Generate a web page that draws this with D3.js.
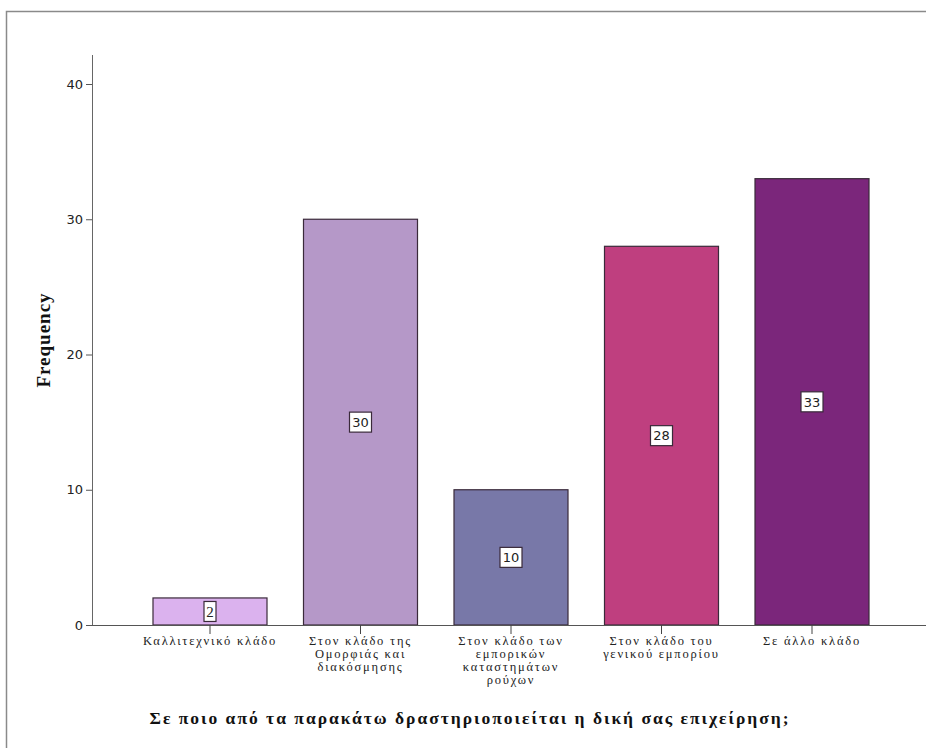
<!DOCTYPE html>
<html><head><meta charset="utf-8">
<script src="https://cdn.jsdelivr.net/npm/d3@7"></script>
<style>body{margin:0;background:#fff;} svg{display:block;}</style>
</head><body>
<script>
const categories = [
  ["Καλλιτεχνικό κλάδο"],
  ["Στον κλάδο της", "Ομορφιάς και", "διακόσμησης"],
  ["Στον κλάδο των", "εμπορικών", "καταστημάτων", "ρούχων"],
  ["Στον κλάδο του", "γενικού εμπορίου"],
  ["Σε άλλο κλάδο"]
];
const values = [2, 30, 10, 28, 33];
const colors = ["#dbb2ee", "#b598c8", "#7878a8", "#bf3f7f", "#7b267b"];
const yTicks = [0, 10, 20, 30, 40];
const yTitle = "Frequency";
const xTitle = "Σε ποιο από τα παρακάτω δραστηριοποιείται η δική σας επιχείρηση;";

const W = 926, H = 748;
const svg = d3.select("body").append("svg").attr("width", W).attr("height", H);
svg.append("rect").attr("x", 6.5).attr("y", 11.5).attr("width", 1000).attr("height", 1000)
  .attr("fill", "none").attr("stroke", "#8a8a8a").attr("stroke-width", 1.5);

const y = d3.scaleLinear().domain([0, 40]).range([625, 84]);
const idx = categories.map((d, i) => i);
const x = d3.scaleBand().domain(idx).range([134.75, 887.25]).paddingInner(0.2425).paddingOuter(0.12125);

// axes
const yAxis = svg.append("g").attr("transform", "translate(92,0)")
  .call(d3.axisLeft(y).tickValues(yTicks).tickSize(6).tickSizeOuter(0));
yAxis.select(".domain").remove();
yAxis.selectAll("line").attr("stroke", "#555");
yAxis.selectAll("text").attr("font-family", "DejaVu Sans, sans-serif").attr("font-size", 13).attr("fill", "#222");
svg.append("line").attr("x1", 92.5).attr("x2", 92.5).attr("y1", 55).attr("y2", 625).attr("stroke", "#666");

// bars
svg.append("g").selectAll("rect").data(values).join("rect")
  .attr("x", (d, i) => x(i)).attr("width", x.bandwidth())
  .attr("y", d => y(d)).attr("height", d => y(0) - y(d))
  .attr("fill", (d, i) => colors[i]).attr("stroke", "#3a2a3a").attr("stroke-width", 1.2);

svg.append("line").attr("x1", 92).attr("x2", 926).attr("y1", 625.5).attr("y2", 625.5).attr("stroke", "#555");

const xAxis = svg.append("g").attr("transform", "translate(0,625)")
  .call(d3.axisBottom(x).tickSize(9).tickFormat(""));
xAxis.select(".domain").remove();
xAxis.selectAll("line").attr("stroke", "#444");

// category labels
const lab = svg.append("g");
categories.forEach((lines, i) => {
  const cx = x(i) + x.bandwidth() / 2;
  const t = lab.append("text").attr("x", cx).attr("y", 645)
    .attr("text-anchor", "middle").attr("font-family", "Liberation Serif, serif")
    .attr("font-size", 12.5).attr("letter-spacing", 1.8).attr("fill", "#222");
  lines.forEach((l, k) => t.append("tspan").attr("x", cx).attr("dy", k === 0 ? 0 : 13).text(l));
});

// value labels
const vl = svg.append("g").selectAll("g").data(values).join("g")
  .attr("transform", (d, i) => `translate(${x(i) + x.bandwidth() / 2},${y(d / 2)})`);
vl.append("rect").attr("x", d => d >= 10 ? -11 : -6).attr("y", -10)
  .attr("width", d => d >= 10 ? 22 : 12).attr("height", 20)
  .attr("fill", "#fff").attr("stroke", "#3a2a3a").attr("stroke-width", 1.2);
vl.append("text").attr("text-anchor", "middle").attr("dy", "0.36em")
  .attr("font-family", d => d >= 10 ? "DejaVu Sans, sans-serif" : "Liberation Serif, serif")
  .attr("font-size", d => d >= 10 ? 13 : 15).attr("fill", "#222").text(d => d);

// titles
svg.append("text").attr("transform", "translate(50,340) rotate(-90)").attr("text-anchor", "middle")
  .attr("font-family", "Liberation Serif, serif").attr("font-weight", "bold").attr("font-size", 19)
  .attr("letter-spacing", 1).attr("fill", "#111").text(yTitle);
svg.append("text").attr("x", 470).attr("y", 724).attr("text-anchor", "middle")
  .attr("font-family", "Liberation Serif, serif").attr("font-weight", "bold").attr("font-size", 17.5)
  .attr("letter-spacing", 2).attr("fill", "#111").text(xTitle);
</script>
</body></html>
